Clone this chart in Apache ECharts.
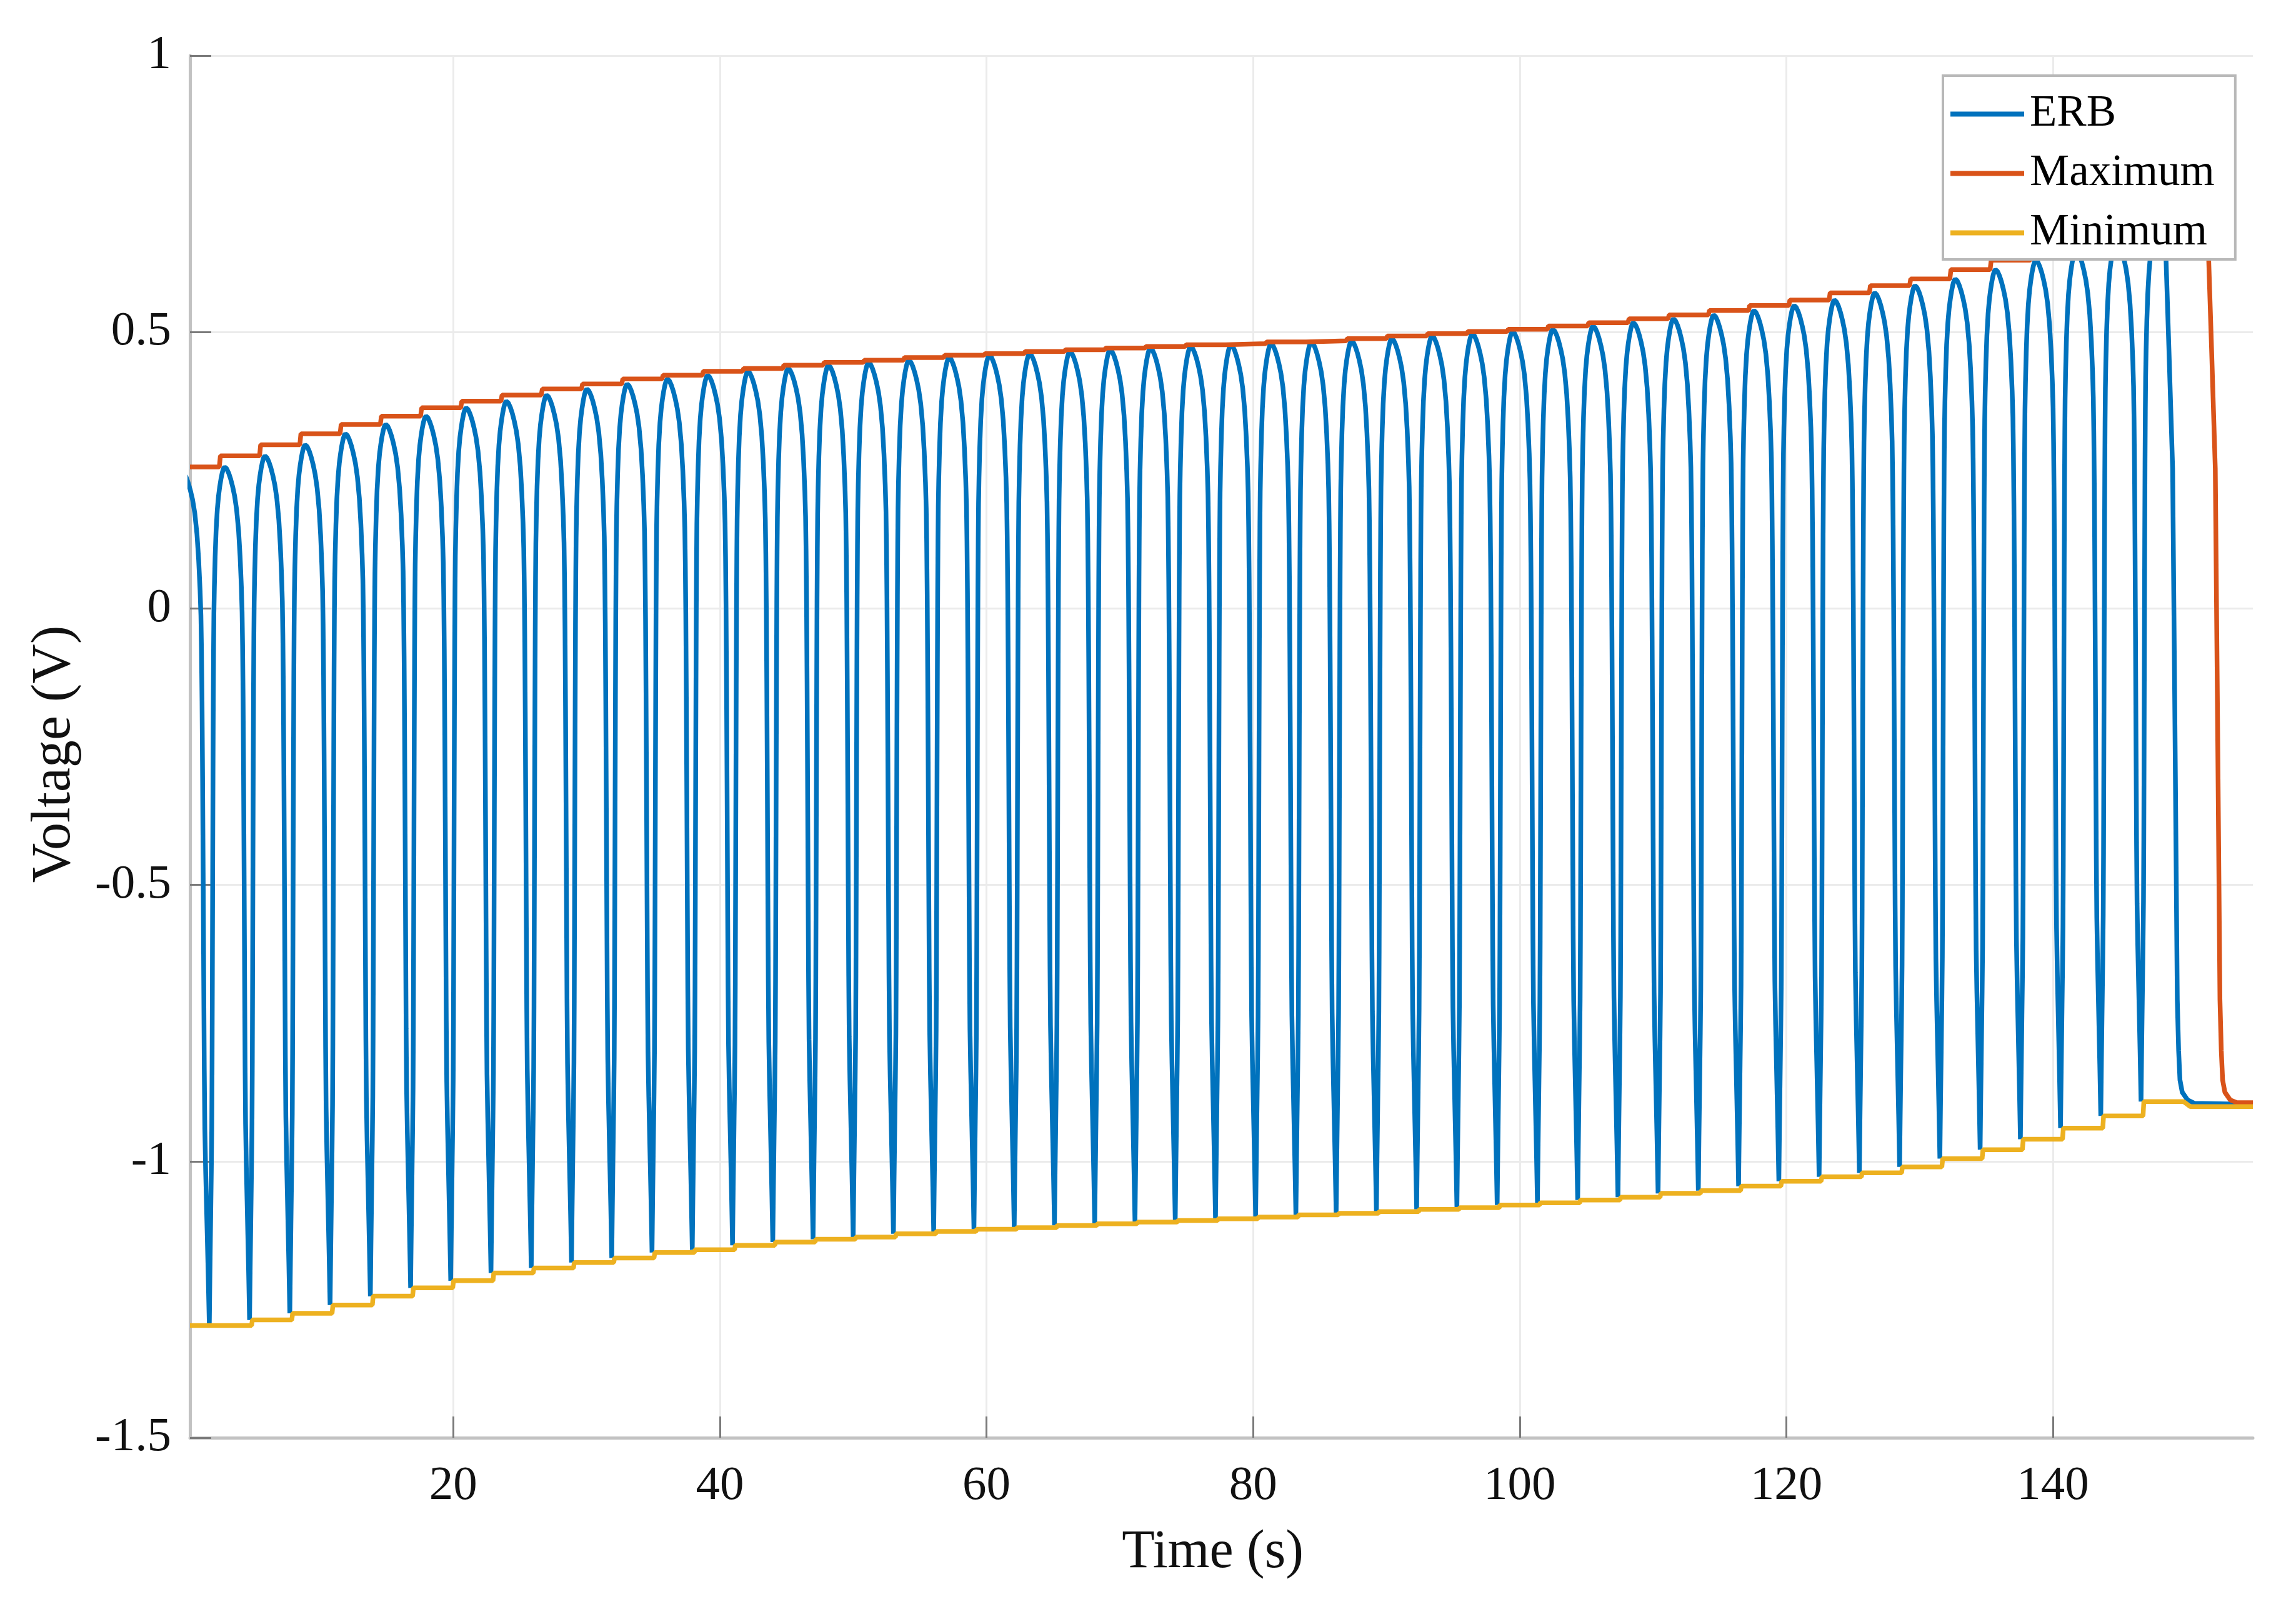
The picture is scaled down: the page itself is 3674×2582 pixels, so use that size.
<!DOCTYPE html>
<html><head><meta charset="utf-8">
<script src="https://cdn.jsdelivr.net/npm/echarts@6/dist/echarts.min.js"></script>
<style>html,body{margin:0;padding:0;background:#fff}#c{width:3674px;height:2582px}</style>
</head><body><div id="c"></div>
<script>
// ---- data ----
const xMin = 0.25, xMax = 155;
const xTicks = [20, 40, 60, 80, 100, 120, 140];
const seriesNames = ['ERB', 'Maximum', 'Minimum'];

// ERB peaks (first entry: peak just before the visible start)
const peakT = [-0.40, 2.85, 5.87, 8.89, 11.91, 14.93, 17.95, 20.96, 23.98, 27.00, 30.02, 33.04, 36.06, 39.08, 42.10, 45.12, 48.14,
  51.15, 54.17, 57.19, 60.21, 63.23, 66.25, 69.27, 72.29, 75.31, 78.33, 81.34, 84.36, 87.38, 90.40, 93.42, 96.44,
  99.46, 102.48, 105.50, 108.52, 111.53, 114.55, 117.57, 120.59, 123.61, 126.63, 129.65, 132.67, 135.69, 138.71,
  141.72, 144.74, 147.76];
const peakV = [0.250, 0.256, 0.276, 0.296, 0.316, 0.333, 0.348, 0.363, 0.375, 0.386, 0.397, 0.406, 0.415, 0.422, 0.429, 0.434, 0.440,
  0.445, 0.449, 0.454, 0.458, 0.461, 0.465, 0.468, 0.471, 0.474, 0.477, 0.479, 0.482, 0.484, 0.488, 0.493, 0.497,
  0.501, 0.505, 0.511, 0.517, 0.524, 0.531, 0.539, 0.548, 0.558, 0.571, 0.584, 0.596, 0.613, 0.630,
  0.648, 0.667, 0.688];
// ERB troughs
const troughT = [1.70, 4.72, 7.74, 10.76, 13.78, 16.80, 19.81, 22.83, 25.85, 28.87, 31.89, 34.91, 37.93, 40.95, 43.97, 46.99,
  50.00, 53.02, 56.04, 59.06, 62.08, 65.10, 68.12, 71.14, 74.16, 77.18, 80.19, 83.21, 86.23, 89.25, 92.27, 95.29,
  98.31, 101.33, 104.35, 107.37, 110.38, 113.40, 116.42, 119.44, 122.46, 125.48, 128.50, 131.52, 134.54, 137.56,
  140.57, 143.59, 146.61];
const troughV = [-1.297, -1.287, -1.275, -1.260, -1.244, -1.229, -1.216, -1.202, -1.193, -1.183, -1.175, -1.165, -1.160, -1.152, -1.146, -1.141,
  -1.137, -1.131, -1.127, -1.123, -1.120, -1.116, -1.113, -1.110, -1.107, -1.104, -1.101, -1.097, -1.094, -1.091, -1.087, -1.084,
  -1.079, -1.075, -1.070, -1.065, -1.058, -1.053, -1.045, -1.036, -1.028, -1.021, -1.010, -0.995, -0.979, -0.960,
  -0.940, -0.918, -0.892];
// waveform between a peak (0) and a trough (1): fraction of the time span vs fraction of the drop
const shapeX = [0, 0.08, 0.16, 0.24, 0.32, 0.40, 0.48, 0.56, 0.62, 0.67, 0.70, 0.72, 0.74, 0.76, 0.78, 0.80, 0.82, 0.84, 0.87, 0.90, 0.93, 0.96, 0.98, 1];
const shapeD = [0, 0.002, 0.007, 0.014, 0.023, 0.034, 0.050, 0.075, 0.105, 0.14, 0.17, 0.21, 0.27, 0.36, 0.47, 0.59, 0.70, 0.77, 0.82, 0.86, 0.90, 0.94, 0.97, 1];
// final decay of ERB after its last peak
const erbTailT = [148.20, 148.48, 148.70, 148.98, 149.15, 149.33, 149.43, 149.53, 149.70, 150.10, 150.60, 155.0];
const erbTailV = [0.675, 0.635, 0.470, 0.253, -0.200, -0.708, -0.800, -0.853, -0.875, -0.889, -0.895, -0.897];
// final drop of the Maximum envelope
const maxTailT = [151.55, 151.68, 151.90, 152.18, 152.35, 152.53, 152.63, 152.73, 152.90, 153.30, 153.80, 155.0];
const maxTailV = [0.688, 0.635, 0.470, 0.253, -0.200, -0.708, -0.800, -0.853, -0.875, -0.889, -0.894, -0.894];
// end of the Minimum envelope
const minTailT = [149.80, 150.30, 155.0];
const minTailV = [-0.892, -0.901, -0.901];

// ---- build series from the arrays ----
const n = shapeX.length;
const erb = [];
for (let i = 0; i < peakT.length; i++) {
  const tp = peakT[i], vp = peakV[i];
  if (i > 0) {
    const tt = troughT[i - 1], vt = troughV[i - 1], R = tp - tt;
    for (let j = n - 2; j >= 1; j--) erb.push([tp - shapeX[j] * R, vp - shapeD[j] * (vp - vt)]);
  }
  erb.push([tp, vp]);
  if (i < troughT.length) {
    const tt = troughT[i], vt = troughV[i], F = tt - tp;
    for (let j = 1; j <= n - 2; j++) erb.push([tp + shapeX[j] * F, vp - shapeD[j] * (vp - vt)]);
    erb.push([tt, vt]);
  } else {
    erbTailT.forEach((t, k) => erb.push([t, erbTailV[k]]));
  }
}
const maxData = [[xMin, peakV[1]]];
for (let a = 1; a < peakT.length - 1; a++) {
  const ts = peakT[a] - 0.4;
  maxData.push([ts, peakV[a]], [ts + 0.08, peakV[a + 1]]);
}
maxTailT.forEach((t, k) => maxData.push([t, maxTailV[k]]));
const minData = [[xMin, troughV[0]]];
for (let k = 1; k < troughT.length; k++) {
  const ts = troughT[k] + 0.15;
  minData.push([ts, troughV[k - 1]], [ts + 0.06, troughV[k]]);
}
minTailT.forEach((t, k) => minData.push([t, minTailV[k]]));

const FONT = 'Liberation Serif';
const LW = 7.5;
const chart = echarts.init(document.getElementById('c'), null, { renderer: 'canvas' });
chart.setOption({
  animation: false,
  backgroundColor: '#ffffff',
  color: ['#0072BD', '#D95319', '#EDB120'],
  grid: { left: 304, right: 69, top: 89, bottom: 282, containLabel: false, outerBoundsMode: 'none' },
  legend: {
    data: seriesNames, orient: 'vertical', left: 3109, top: 121,
    padding: [26, 33, 7, 12], itemGap: 24, itemWidth: 118, itemHeight: 8, icon: 'rect',
    backgroundColor: '#ffffff', borderColor: '#b8b8b8', borderWidth: 4, borderRadius: 0,
    textStyle: { fontFamily: FONT, fontSize: 71, color: '#000', padding: [0, 0, 0, 4] },
    selectedMode: false
  },
  xAxis: {
    type: 'value', min: xMin, max: xMax,
    name: 'Time (s)', nameLocation: 'middle', nameGap: 141, nameMoveOverlap: false,
    nameTextStyle: { fontFamily: FONT, fontSize: 86, color: '#111', padding: [0, 28, 0, 0] },
    axisLine: { show: true, onZero: false, lineStyle: { color: '#c2c2c2', width: 5 } },
    axisTick: { show: true, inside: true, length: 34, customValues: xTicks, lineStyle: { color: '#7a7a7a', width: 3 } },
    axisLabel: { customValues: xTicks, margin: 39, fontFamily: FONT, fontSize: 77, color: '#111' },
    splitLine: { show: true, lineStyle: { color: '#ebebeb', width: 3 } }
  },
  yAxis: {
    type: 'value', min: -1.5, max: 1, interval: 0.5,
    name: 'Voltage (V)', nameLocation: 'middle', nameGap: 172, nameRotate: 90, nameMoveOverlap: false,
    nameTextStyle: { fontFamily: FONT, fontSize: 88, color: '#111', padding: [0, 24, 0, 0] },
    axisLine: { show: true, onZero: false, lineStyle: { color: '#c2c2c2', width: 5 } },
    axisTick: { show: true, inside: true, length: 34, lineStyle: { color: '#7a7a7a', width: 3 } },
    axisLabel: { margin: 30, fontFamily: FONT, fontSize: 77, color: '#111' },
    splitLine: { show: true, lineStyle: { color: '#ebebeb', width: 3 } }
  },
  series: [
    { name: 'ERB', type: 'line', data: erb, symbol: 'none', showSymbol: false, clip: true, silent: true,
      lineStyle: { color: '#0072BD', width: LW }, itemStyle: { color: '#0072BD' }, z: 2 },
    { name: 'Maximum', type: 'line', data: maxData, symbol: 'none', showSymbol: false, clip: true, silent: true,
      lineStyle: { color: '#D95319', width: LW }, itemStyle: { color: '#D95319' }, z: 3 },
    { name: 'Minimum', type: 'line', data: minData, symbol: 'none', showSymbol: false, clip: true, silent: true,
      lineStyle: { color: '#EDB120', width: LW }, itemStyle: { color: '#EDB120' }, z: 3 }
  ]
});
</script></body></html>
